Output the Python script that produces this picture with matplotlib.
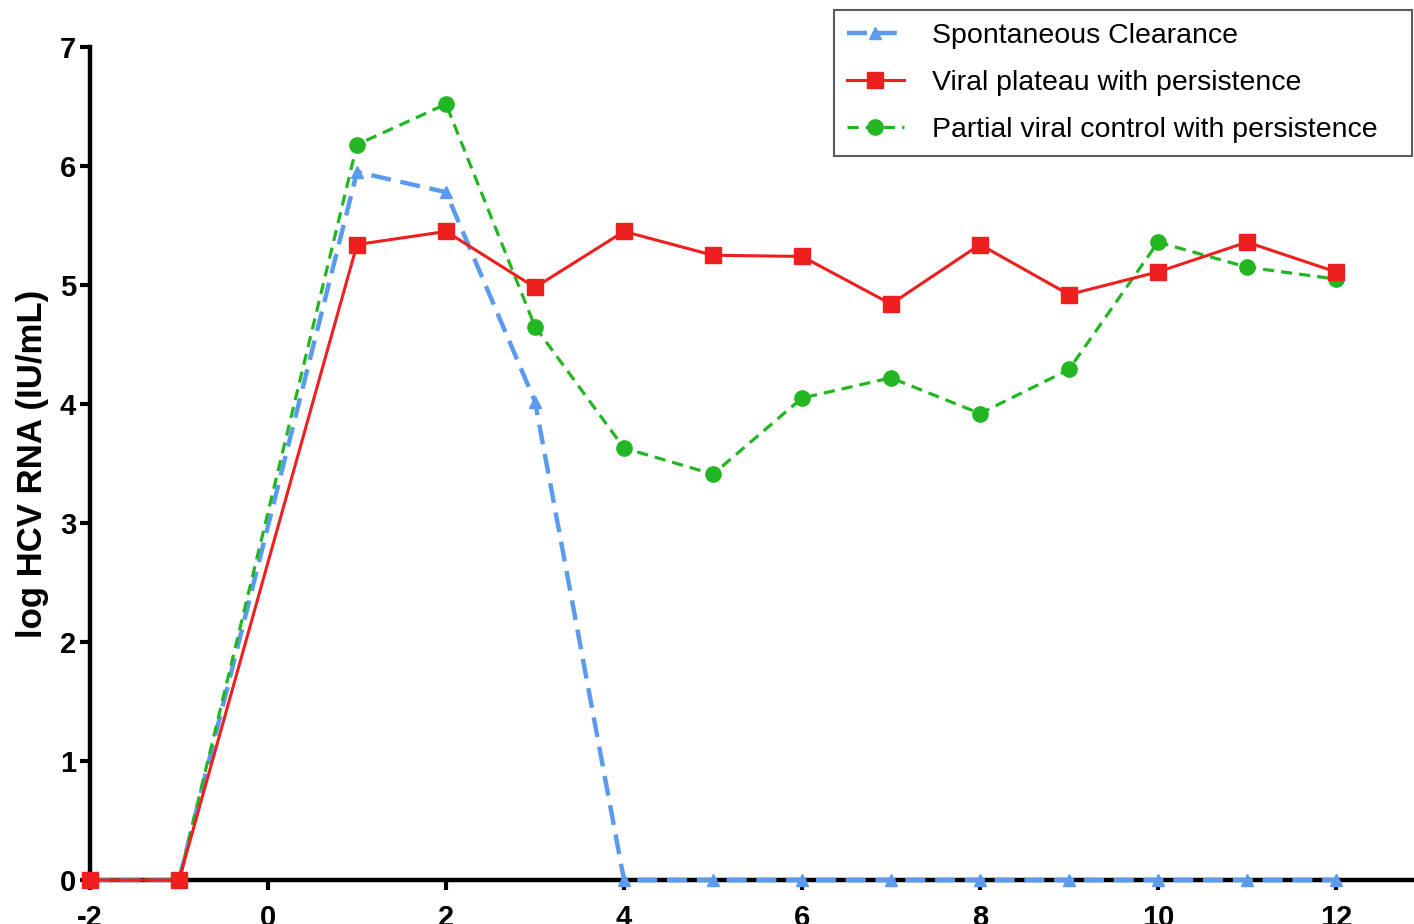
import matplotlib
matplotlib.use("Agg")
import matplotlib.pyplot as plt

plt.rcParams['font.family'] = ['Liberation Sans', 'DejaVu Sans']
plt.rcParams['axes.unicode_minus'] = False

x_clear = [-2, -1, 1, 2, 3, 4, 5, 6, 7, 8, 9, 10, 11, 12]
y_clear = [0, 0, 5.95, 5.78, 4.02, 0, 0, 0, 0, 0, 0, 0, 0, 0]

x_plateau = [-2, -1, 1, 2, 3, 4, 5, 6, 7, 8, 9, 10, 11, 12]
y_plateau = [0, 0, 5.34, 5.45, 4.98, 5.45, 5.25, 5.24, 4.84, 5.34, 4.92, 5.11, 5.36, 5.11]

x_partial = [-2, -1, 1, 2, 3, 4, 5, 6, 7, 8, 9, 10, 11, 12]
y_partial = [0, 0, 6.18, 6.52, 4.65, 3.63, 3.41, 4.05, 4.22, 3.92, 4.29, 5.36, 5.15, 5.05]

labels = ["Spontaneous Clearance", "Viral plateau with persistence",
          "Partial viral control with persistence"]
xticks = [-2, 0, 2, 4, 6, 8, 10, 12]
yticks = [0, 1, 2, 3, 4, 5, 6, 7]

W, H = 1414, 924
fig = plt.figure(figsize=(W / 100, H / 100), dpi=100)
ax = fig.add_axes([90 / W, 44 / H, 1 - 90 / W, (880 - 47) / H])

ax.plot(x_clear, y_clear, color='#5b9bef', ls=(0, (4.5, 2.2)), lw=3.2,
        marker='^', ms=9, label=labels[0], zorder=3)
ax.plot(x_plateau, y_plateau, color='#ee1f1f', ls='-', lw=2.2,
        marker='s', ms=11, label=labels[1], zorder=4)
ax.plot(x_partial, y_partial, color='#22b722', ls=(0, (3.5, 2.2)), lw=2.3,
        marker='o', ms=11, label=labels[2], zorder=3)

ax.set_xlim(-2, -2 + (W - 90) / 89.0)
ax.set_ylim(0, 7)
ax.set_xticks(xticks)
ax.set_yticks(yticks)
ax.spines['top'].set_visible(False)
ax.spines['right'].set_visible(False)
for s in ['left', 'bottom']:
    ax.spines[s].set_linewidth(3.2)
ax.tick_params(width=3, length=7, labelsize=21, pad=3)
ax.tick_params(axis='x', pad=10)
for t in ax.get_xticklabels() + ax.get_yticklabels():
    t.set_fontweight('bold')
for ln in ax.get_lines():
    ln.set_clip_on(False)

ax.set_ylabel("log HCV RNA (IU/mL)", fontsize=25, fontweight='bold', labelpad=8)

leg = fig.legend(handles=ax.get_lines(), labels=labels, loc='upper left',
                 bbox_to_anchor=(834 / W, 1 - 157 / H, (W - 2 - 834) / W, 147 / H),
                 mode='expand', fontsize=20.5,
                 frameon=True, fancybox=False, edgecolor='#333333',
                 handlelength=2.0, handletextpad=1.0, borderpad=0.45,
                 labelspacing=0.74, borderaxespad=0)
leg.get_frame().set_linewidth(1.5)

fig.savefig("out.png", dpi=100)
